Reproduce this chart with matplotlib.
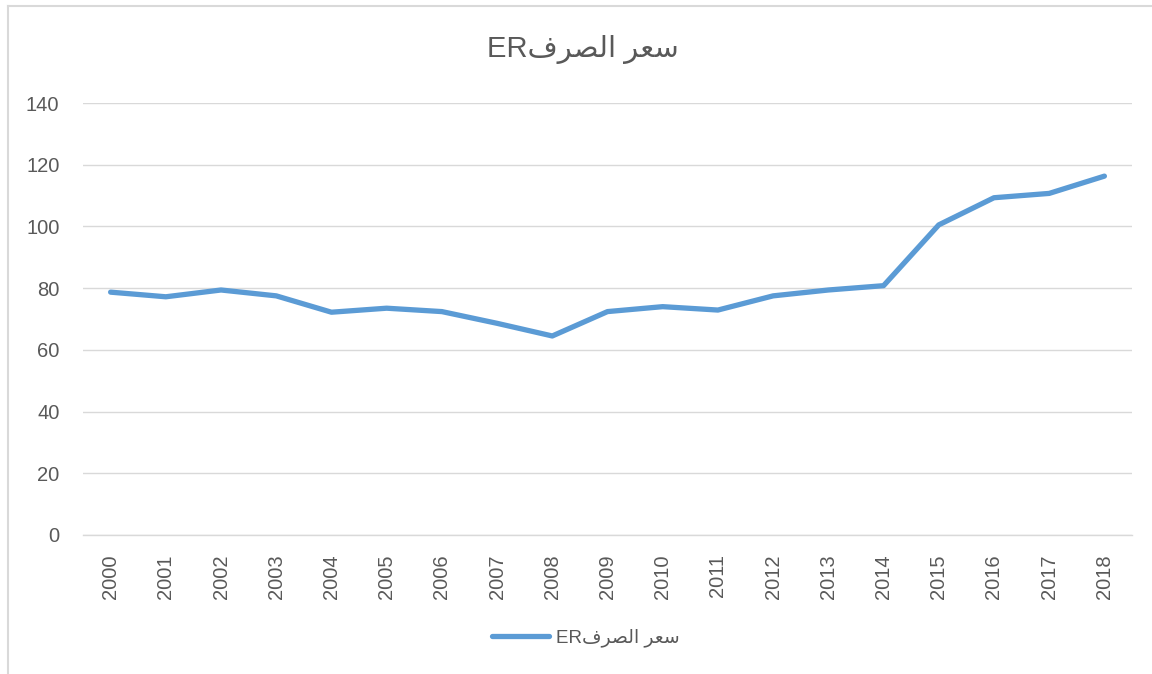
#!/usr/bin/env python3
# -*- coding: utf-8 -*-
"""Exchange rate (ER) line chart, 2000-2018, Excel-style."""

import matplotlib
matplotlib.use("Agg")
import matplotlib.pyplot as plt
from matplotlib.lines import Line2D

# ---------------------------------------------------------------------------
# Data
# ---------------------------------------------------------------------------
years = [str(y) for y in range(2000, 2019)]
er_values = [78.7, 77.2, 79.4, 77.5, 72.2, 73.5, 72.4, 68.6, 64.5, 72.4,
             74.0, 72.9, 77.5, 79.4, 80.8, 100.5, 109.3, 110.7, 116.3]
y_ticks = [0, 20, 40, 60, 80, 100, 120, 140]

# "سعر الصرفER" pre-shaped (Arabic presentation forms, visual order),
# since matplotlib does no Arabic shaping / bidi on its own.
AR_LABEL = "ER" + "\uFED1\uFEAE\uFEBC\uFEDF\uFE8D \uFEAE\uFECC\uFEB3"

LINE_COLOR = "#5B9BD5"
GRID_COLOR = "#D9D9D9"
TEXT_COLOR = "#595959"
FONTS = ["Liberation Sans", "DejaVu Sans"]

plt.rcParams["font.family"] = FONTS

W, H = 1152, 674
fig = plt.figure(figsize=(W / 100, H / 100), dpi=100)
ax = fig.add_axes([83 / W, 1 - 535 / H, (1132 - 83) / W, (535 - 103) / H])

x = list(range(len(years)))
ax.plot(x, er_values, color=LINE_COLOR, linewidth=3.8,
        solid_capstyle="round", solid_joinstyle="round", zorder=3)

ax.set_xlim(-0.5, len(years) - 0.5)
ax.set_ylim(0, 140)
ax.set_yticks(y_ticks)
ax.set_yticklabels([str(t) for t in y_ticks])
ax.set_xticks(x)
ax.set_xticklabels(years, rotation=90)

ax.tick_params(axis="both", length=0, labelsize=14.5, colors=TEXT_COLOR)
ax.tick_params(axis="y", pad=17)
ax.tick_params(axis="x", pad=14)

ax.grid(axis="y", color=GRID_COLOR, linewidth=1.0)
ax.set_axisbelow(True)
for s in ("top", "right", "left"):
    ax.spines[s].set_visible(False)
ax.spines["bottom"].set_color(GRID_COLOR)
ax.spines["bottom"].set_linewidth(1.0)

# Title
fig.text(583 / W, 1 - 50 / H, AR_LABEL, ha="center", va="center",
         fontsize=21, color=TEXT_COLOR)

# Legend
handle = Line2D([], [], color=LINE_COLOR, linewidth=3.8, solid_capstyle="round")
fig.legend([handle], [AR_LABEL], loc="center", bbox_to_anchor=(586 / W, 1 - 638 / H),
           frameon=False, fontsize=13.5, labelcolor=TEXT_COLOR,
           handlelength=3.0, handletextpad=0.4)

# Chart-area border (left and top edges only visible in the crop)
fig.add_artist(Line2D([7.5 / W, 7.5 / W], [0, 1 - 5.5 / H], color="#D9D9D9",
                      linewidth=1.5, transform=fig.transFigure))
fig.add_artist(Line2D([7.5 / W, 1], [1 - 5.5 / H, 1 - 5.5 / H], color="#D9D9D9",
                      linewidth=1.5, transform=fig.transFigure))

fig.savefig("out.png", dpi=100)
